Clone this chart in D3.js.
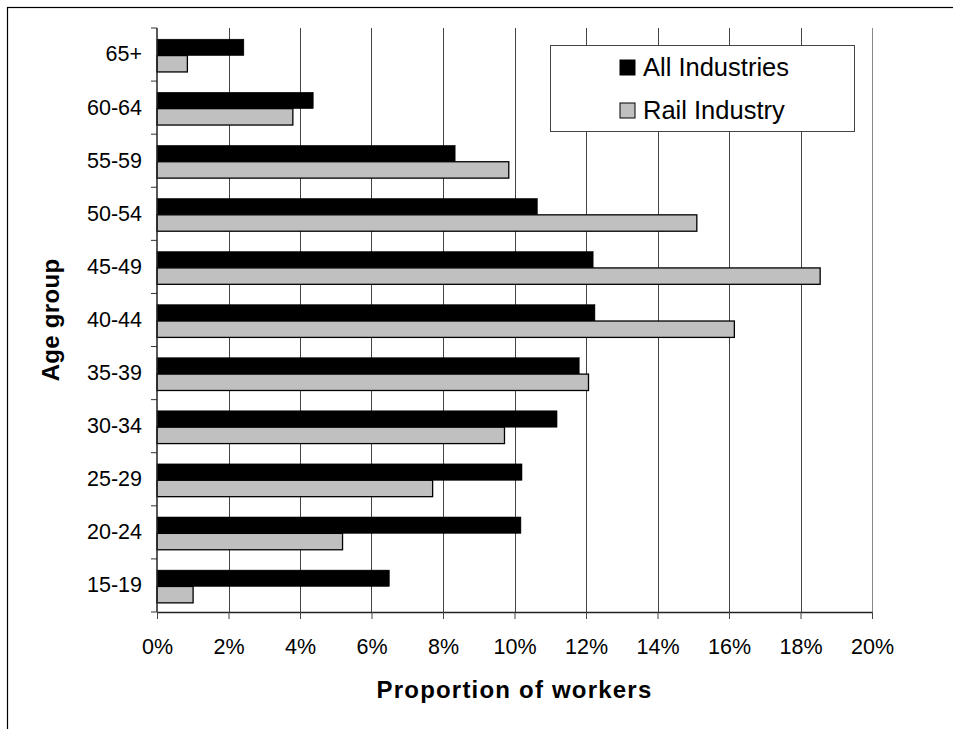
<!DOCTYPE html>
<html>
<head>
<meta charset="utf-8">
<script src="https://cdn.jsdelivr.net/npm/d3@7"></script>
<style>
  body { margin: 0; background: #fff; }
  svg { display: block; font-family: "Liberation Sans", Arial, sans-serif; }
</style>
</head>
<body>
<script>
// age groups, top of chart first
const ageGroups = ["65+", "60-64", "55-59", "50-54", "45-49", "40-44", "35-39", "30-34", "25-29", "20-24", "15-19"];
// proportion of workers (%)
const allIndustries = [2.43, 4.37, 8.34, 10.64, 12.2, 12.25, 11.81, 11.19, 10.21, 10.18, 6.5];
const railIndustry = [0.85, 3.8, 9.84, 15.1, 18.55, 16.15, 12.07, 9.72, 7.71, 5.19, 1.01];
const seriesNames = ["All Industries", "Rail Industry"];
const seriesColors = ["#000000", "#c0c0c0"];
const xTicks = [0, 2, 4, 6, 8, 10, 12, 14, 16, 18, 20];

const width = 953, height = 729;
const marginTop = 28, marginRight = 81, marginBottom = 117, marginLeft = 157;

const rows = ageGroups.map((g, i) => ({ group: g, values: [allIndustries[i], railIndustry[i]] }));

const x = d3.scaleLinear()
  .domain([0, 20])
  .range([marginLeft, width - marginRight]);

const y = d3.scaleBand()
  .domain(ageGroups)
  .range([marginTop, height - marginBottom]);

const ySub = d3.scaleBand()
  .domain(seriesNames)
  .range([0, y.bandwidth()])
  .paddingOuter(0.62)
  .align(0.55);

const svg = d3.select("body").append("svg")
  .attr("width", width)
  .attr("height", height)
  .attr("viewBox", [0, 0, width, height]);

// outer frame (right & bottom edges fall outside the picture)
svg.append("rect")
  .attr("x", 7.5).attr("y", 7.5)
  .attr("width", width + 20).attr("height", height + 20)
  .attr("fill", "none")
  .attr("stroke", "#000")
  .attr("stroke-width", 1.2);

// vertical gridlines
svg.append("g")
  .selectAll("line")
  .data(xTicks.filter(d => d > 0))
  .join("line")
  .attr("x1", d => Math.round(x(d)) + 0.5)
  .attr("x2", d => Math.round(x(d)) + 0.5)
  .attr("y1", marginTop)
  .attr("y2", height - marginBottom)
  .attr("stroke", d => d === 20 ? "#888" : "#444")
  .attr("stroke-width", 1);

// bars
const row = svg.append("g")
  .selectAll("g")
  .data(rows)
  .join("g")
  .attr("transform", d => `translate(0,${y(d.group)})`);

row.selectAll("rect")
  .data(d => d.values.map((v, j) => ({ key: seriesNames[j], value: v, j })))
  .join("rect")
  .attr("x", x(0))
  .attr("y", d => ySub(d.key))
  .attr("width", d => x(d.value) - x(0))
  .attr("height", ySub.bandwidth())
  .attr("fill", d => seriesColors[d.j])
  .attr("stroke", "#000")
  .attr("stroke-width", d => d.j === 1 ? 1.3 : 0.5);

// x axis
const xAxis = svg.append("g")
  .attr("transform", `translate(0,${height - marginBottom})`)
  .call(d3.axisBottom(x).tickValues(xTicks).tickFormat(d => d + "%").tickSize(7).tickPadding(20).tickSizeOuter(0));
xAxis.select(".domain").attr("stroke", "#222").attr("stroke-width", 1.5);
xAxis.selectAll(".tick line").attr("stroke", "#444");
xAxis.selectAll("text").attr("font-size", 21.5).attr("fill", "#000");

// y axis: labels at band centres, ticks at band boundaries
const yAxis = svg.append("g")
  .attr("transform", `translate(${marginLeft},0)`)
  .call(d3.axisLeft(y).tickSize(0).tickPadding(15));
yAxis.select(".domain").remove();
yAxis.selectAll("text").attr("font-size", 21.5).attr("fill", "#000");

const bounds = ageGroups.map(g => y(g)).concat([y.range()[1]]);
svg.append("g")
  .selectAll("line")
  .data(bounds)
  .join("line")
  .attr("x1", marginLeft - 6)
  .attr("x2", marginLeft)
  .attr("y1", d => d)
  .attr("y2", d => d)
  .attr("stroke", "#333");
svg.append("line")
  .attr("x1", marginLeft).attr("x2", marginLeft)
  .attr("y1", marginTop).attr("y2", height - marginBottom)
  .attr("stroke", "#222").attr("stroke-width", 1.5);

// axis titles
svg.append("text")
  .attr("x", (x.range()[0] + x.range()[1]) / 2)
  .attr("y", 698)
  .attr("text-anchor", "middle")
  .attr("font-size", 24)
  .attr("font-weight", "bold")
  .attr("letter-spacing", 1.2)
  .text("Proportion of workers");

svg.append("text")
  .attr("transform", `translate(59,${(y.range()[0] + y.range()[1]) / 2}) rotate(-90)`)
  .attr("text-anchor", "middle")
  .attr("font-size", 24)
  .attr("font-weight", "bold")
  .attr("letter-spacing", 0.3)
  .text("Age group");

// legend
const legend = svg.append("g");
legend.append("rect")
  .attr("x", 550.5).attr("y", 45.5)
  .attr("width", 304).attr("height", 86)
  .attr("fill", "#fff")
  .attr("stroke", "#444");

const item = legend.selectAll("g")
  .data(seriesNames)
  .join("g")
  .attr("transform", (d, i) => `translate(620,${60 + i * 43})`);

item.append("rect")
  .attr("width", 15).attr("height", 15)
  .attr("fill", (d, i) => seriesColors[i])
  .attr("stroke", "#000")
  .attr("stroke-width", 1);

item.append("text")
  .attr("x", 23)
  .attr("y", 16)
  .attr("font-size", 25.5)
  .text(d => d);
</script>
</body>
</html>
